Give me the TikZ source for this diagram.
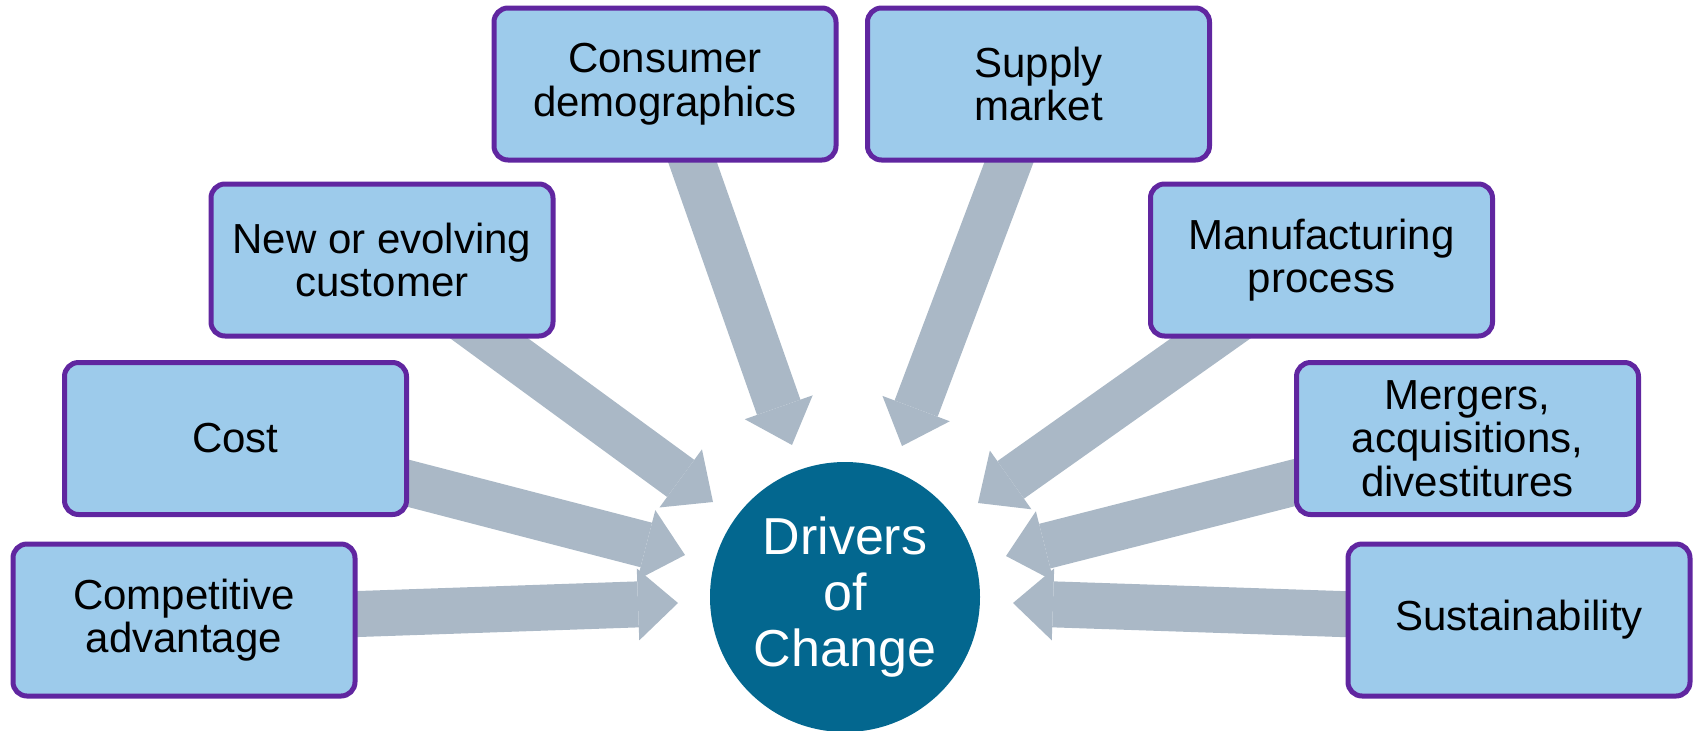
\documentclass[tikz,border=0pt]{standalone}
\usepackage{fontspec}
\setmainfont{Liberation Sans}
\usetikzlibrary{arrows.meta, backgrounds}

\definecolor{boxfill}{RGB}{157,203,235}
\definecolor{boxline}{RGB}{96,38,160}
\definecolor{arrowgray}{RGB}{170,184,198}
\definecolor{coreblue}{RGB}{3,103,143}

\tikzset{
    driver/.style={draw=boxline, fill=boxfill, line width=2.5pt, rounded corners=7pt,
        minimum width=171pt, minimum height=76pt, align=center, inner sep=2pt,
        font=\fontsize{21}{21.8}\selectfont},
    push/.style={arrowgray, line width=23pt,
        -{Triangle[length=20pt, width=36pt, line width=0pt]}}
}

\begin{document}
\begin{tikzpicture}[x=0.5pt, y=-0.5pt]

    \useasboundingbox (0,0) rectangle (1694,730);

    % Draw the circle in the middle
    \node[circle, fill=coreblue, minimum size=135pt, inner sep=0pt, text=white,
        align=center, font=\fontsize{26}{28}\selectfont] (core) at (845,597) {Drivers\\of\\Change};

    % Draw the boxes for the drivers
    \node[driver] (compadv) at (184,620) {Competitive\\advantage};
    \node[driver] (cost) at (235.5,438.5) {Cost};
    \node[driver] (newcust) at (382,260) {New or evolving\\customer};
    \node[driver] (consumer) at (665,84) {Consumer\\demographics};
    \node[driver] (supply) at (1038.5,84) {Supply\\market};
    \node[driver] (manuf) at (1321.5,260) {Manufacturing\\process};
    \node[driver] (mergers) at (1467.5,438.5) {Mergers,\\acquisitions,\\divestitures};
    \node[driver] (sustain) at (1519,620) {Sustainability};

    % Arrow tips round the circle
    \coordinate (t1) at (678,603);
    \coordinate (t2) at (685,555);
    \coordinate (t3) at (713,502);
    \coordinate (t4) at (792,445);
    \coordinate (t5) at (902,446);
    \coordinate (t6) at (978,503);
    \coordinate (t7) at (1006,556);
    \coordinate (t8) at (1013,603);

    % Draw the arrows behind the boxes
    \begin{scope}[on background layer]
        \draw[push] (compadv.center) -- (t1);
        \draw[push] (cost.center) -- (t2);
        \draw[push] (newcust.center) -- (t3);
        \draw[push] (consumer.center) -- (t4);
        \draw[push] (supply.center) -- (t5);
        \draw[push] (manuf.center) -- (t6);
        \draw[push] (mergers.center) -- (t7);
        \draw[push] (sustain.center) -- (t8);
    \end{scope}

\end{tikzpicture}
\end{document}
